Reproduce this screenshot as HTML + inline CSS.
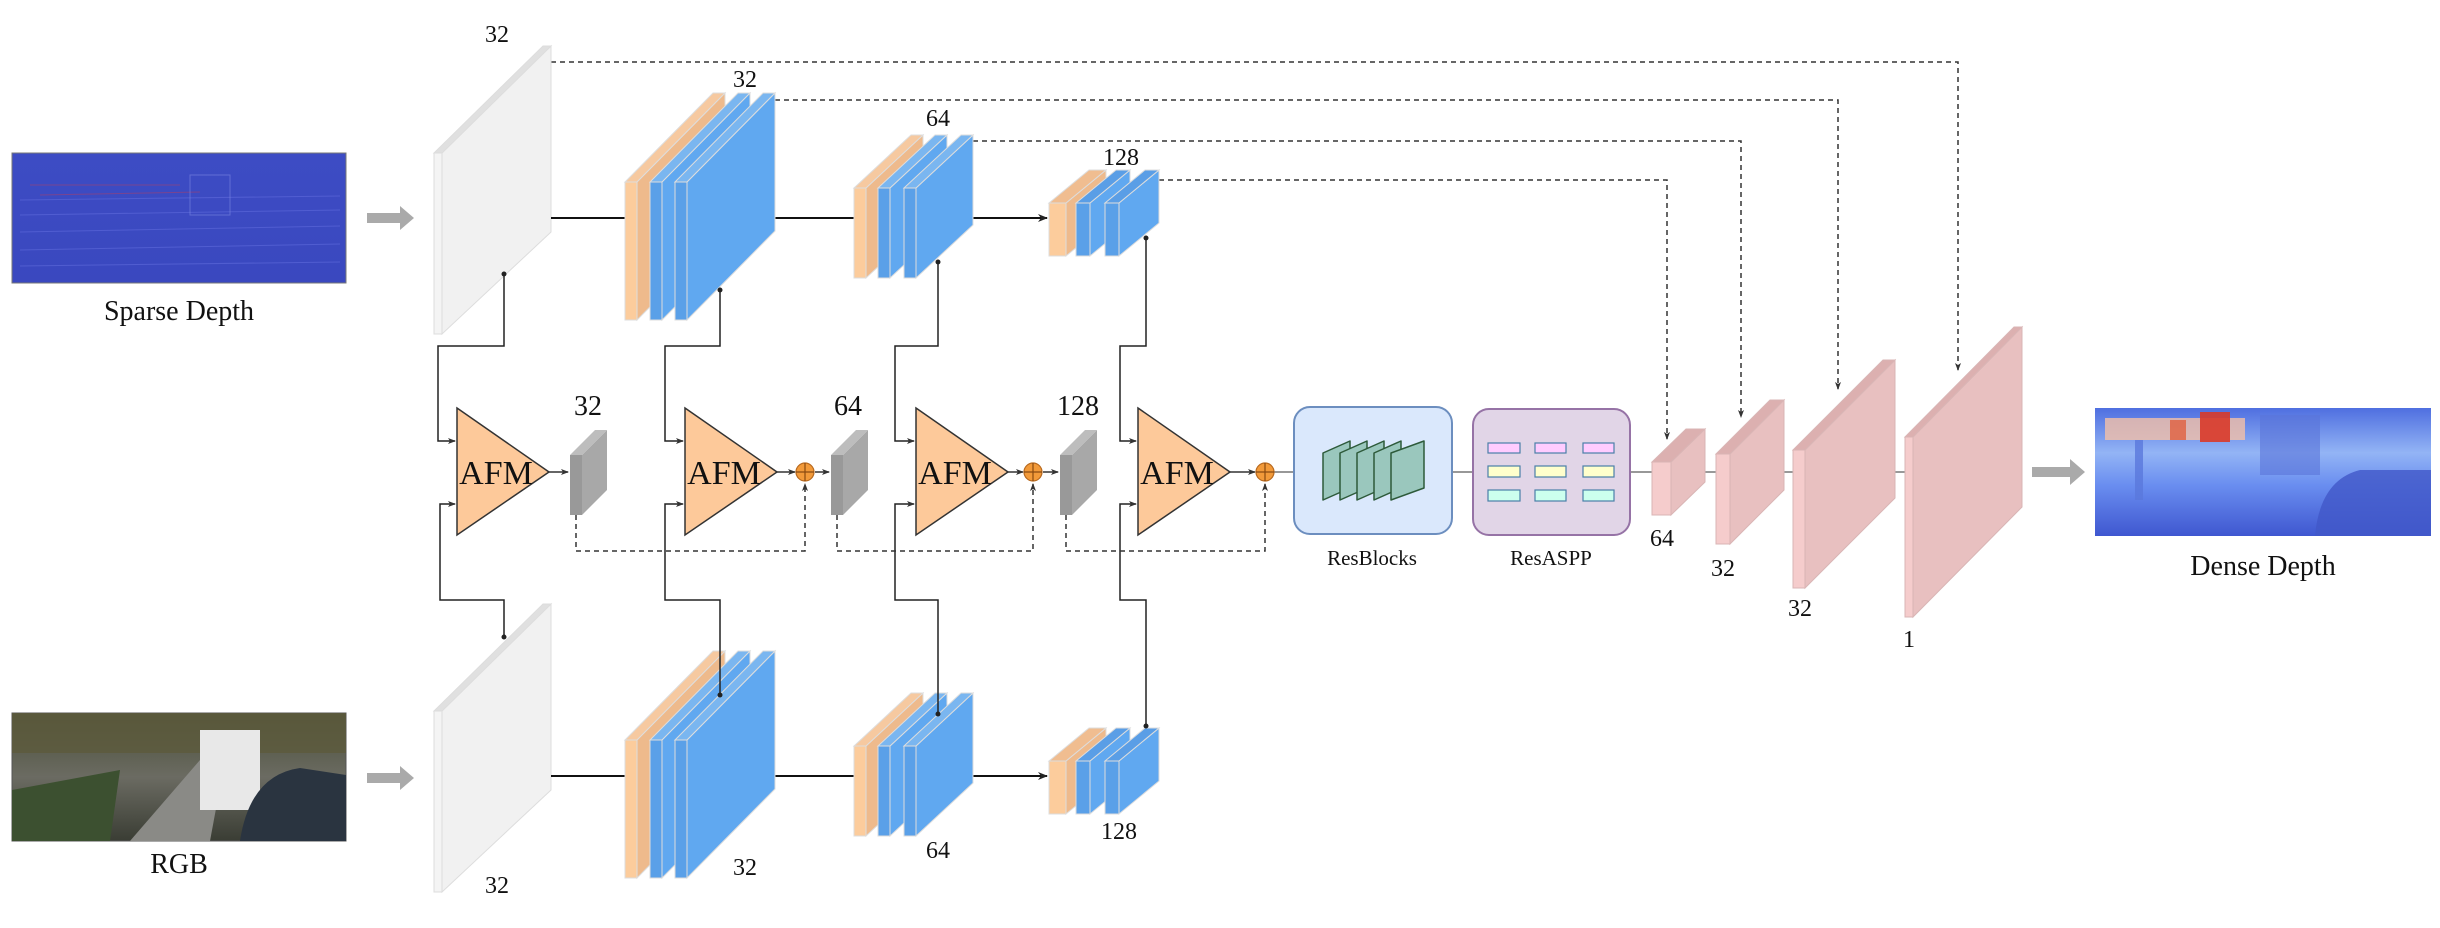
<!DOCTYPE html>
<html><head><meta charset="utf-8"><style>
html,body{margin:0;padding:0;background:#fff;}
svg{display:block;}
text{font-family:"Liberation Serif",serif;fill:#111;}
</style></head><body>
<svg width="2440" height="928" viewBox="0 0 2440 928" xmlns="http://www.w3.org/2000/svg">
<defs>
<marker id="ah" markerWidth="10" markerHeight="10" refX="9" refY="5" orient="auto" markerUnits="userSpaceOnUse"><path d="M0,1 L10,5 L0,9 L3,5 Z" fill="#222"/></marker>
<marker id="as" markerWidth="8" markerHeight="8" refX="7" refY="4" orient="auto" markerUnits="userSpaceOnUse"><path d="M0,1 L8,4 L0,7 L2,4 Z" fill="#333"/></marker>
<linearGradient id="sd" x1="0" y1="0" x2="0" y2="1"><stop offset="0" stop-color="#3d4cc4"/><stop offset="1" stop-color="#3a48bf"/></linearGradient>
<linearGradient id="dd" x1="0" y1="0" x2="0" y2="1"><stop offset="0" stop-color="#4f6fe0"/><stop offset="0.35" stop-color="#93b4f5"/><stop offset="0.6" stop-color="#6a8ef0"/><stop offset="1" stop-color="#3f57d0"/></linearGradient>
<linearGradient id="rg" x1="0" y1="0" x2="0" y2="1"><stop offset="0" stop-color="#4a4f38"/><stop offset="0.5" stop-color="#6b6b62"/><stop offset="1" stop-color="#3a3d34"/></linearGradient>
</defs>

<rect x="12" y="153" width="334" height="130" fill="url(#sd)" stroke="#777" stroke-width="1"/>
<g stroke="#5a66d8" stroke-width="1" opacity="0.7">
<line x1="20" y1="200" x2="340" y2="196"/><line x1="20" y1="215" x2="340" y2="210"/><line x1="20" y1="232" x2="340" y2="226"/><line x1="20" y1="250" x2="340" y2="244"/><line x1="20" y1="266" x2="340" y2="262"/>
</g>
<g stroke="#a04070" stroke-width="1" opacity="0.6"><line x1="30" y1="185" x2="180" y2="185"/><line x1="40" y1="195" x2="200" y2="192"/></g>
<rect x="190" y="175" width="40" height="40" fill="none" stroke="#7a86e0" opacity="0.6"/>
<text x="179" y="320" font-size="28" text-anchor="middle">Sparse Depth</text>

<rect x="12" y="713" width="334" height="128" fill="url(#rg)" stroke="#555"/>
<rect x="12" y="713" width="334" height="40" fill="#5c5a3c" opacity="0.8"/>
<polygon points="130,841 200,760 225,760 210,841" fill="#8a8a86"/>
<polygon points="12,841 12,790 120,770 110,841" fill="#3c5030"/>
<rect x="200" y="730" width="60" height="80" fill="#e8e8e8"/>
<path d="M240,841 Q250,775 300,768 L346,775 L346,841 Z" fill="#2a3440"/>
<text x="179" y="873" font-size="28" text-anchor="middle">RGB</text>

<polygon points="367,213 400,213 400,206 414,218 400,230 400,223 367,223" fill="#aaa"/>
<polygon points="367,773 400,773 400,766 414,778 400,790 400,783 367,783" fill="#aaa"/>
<polygon points="2032,467 2070,467 2070,459 2085,472 2070,485 2070,477 2032,477" fill="#aaa"/>

<g fill="none" stroke="#333" stroke-width="1.5" stroke-dasharray="5,4">
<polyline points="551,62 1958,62 1958,370" marker-end="url(#as)"/>
<polyline points="775,100 1838,100 1838,389" marker-end="url(#as)"/>
<polyline points="973,141 1741,141 1741,417" marker-end="url(#as)"/>
<polyline points="1159,180 1667,180 1667,439" marker-end="url(#as)"/>
</g>

<g stroke="#ddd" stroke-width="1">
<polygon points="442,153 551,46 551,232 442,334" fill="#f1f1f1"/>
<polygon points="434,153 543,46 551,46 442,153" fill="#e0e0e0"/>
<rect x="434" y="153" width="8" height="181" fill="#f4f4f4"/>
<polygon points="442,711 551,604 551,790 442,892" fill="#f1f1f1"/>
<polygon points="434,711 543,604 551,604 442,711" fill="#e0e0e0"/>
<rect x="434" y="711" width="8" height="181" fill="#f4f4f4"/>
</g>
<text x="497" y="42" font-size="24" text-anchor="middle">32</text>
<text x="497" y="893" font-size="24" text-anchor="middle">32</text>

<g stroke="#111" stroke-width="2">
<line x1="551" y1="218" x2="625" y2="218"/><line x1="775" y1="218" x2="854" y2="218"/>
<line x1="973" y1="218" x2="1047" y2="218" marker-end="url(#ah)"/>
<line x1="551" y1="776" x2="625" y2="776"/><line x1="775" y1="776" x2="854" y2="776"/>
<line x1="973" y1="776" x2="1047" y2="776" marker-end="url(#ah)"/>
</g>

<g stroke="#ddd" stroke-width="1">
<polygon points="637,182 725,93 725,231 637,320" fill="#eeba8c"/><polygon points="625,182 713,93 725,93 637,182" fill="#f6c9a0"/><rect x="625" y="182" width="12" height="138" fill="#fccc9c"/>
<polygon points="662,182 750,93 750,231 662,320" fill="#60a8f0"/><polygon points="650,182 738,93 750,93 662,182" fill="#7ab6f0"/><rect x="650" y="182" width="12" height="138" fill="#5aa0e8"/>
<polygon points="687,182 775,93 775,231 687,320" fill="#60a8f0"/><polygon points="675,182 763,93 775,93 687,182" fill="#7ab6f0"/><rect x="675" y="182" width="12" height="138" fill="#5aa0e8"/>
<polygon points="637,740 725,651 725,789 637,878" fill="#eeba8c"/><polygon points="625,740 713,651 725,651 637,740" fill="#f6c9a0"/><rect x="625" y="740" width="12" height="138" fill="#fccc9c"/>
<polygon points="662,740 750,651 750,789 662,878" fill="#60a8f0"/><polygon points="650,740 738,651 750,651 662,740" fill="#7ab6f0"/><rect x="650" y="740" width="12" height="138" fill="#5aa0e8"/>
<polygon points="687,740 775,651 775,789 687,878" fill="#60a8f0"/><polygon points="675,740 763,651 775,651 687,740" fill="#7ab6f0"/><rect x="675" y="740" width="12" height="138" fill="#5aa0e8"/>
<polygon points="866,188 923,135 923,225 866,278" fill="#eeba8c"/><polygon points="854,188 911,135 923,135 866,188" fill="#f6c9a0"/><rect x="854" y="188" width="12" height="90" fill="#fccc9c"/>
<polygon points="890,188 947,135 947,225 890,278" fill="#60a8f0"/><polygon points="878,188 935,135 947,135 890,188" fill="#7ab6f0"/><rect x="878" y="188" width="12" height="90" fill="#5aa0e8"/>
<polygon points="916,188 973,135 973,225 916,278" fill="#60a8f0"/><polygon points="904,188 961,135 973,135 916,188" fill="#7ab6f0"/><rect x="904" y="188" width="12" height="90" fill="#5aa0e8"/>
<polygon points="866,746 923,693 923,783 866,836" fill="#eeba8c"/><polygon points="854,746 911,693 923,693 866,746" fill="#f6c9a0"/><rect x="854" y="746" width="12" height="90" fill="#fccc9c"/>
<polygon points="890,746 947,693 947,783 890,836" fill="#60a8f0"/><polygon points="878,746 935,693 947,693 890,746" fill="#7ab6f0"/><rect x="878" y="746" width="12" height="90" fill="#5aa0e8"/>
<polygon points="916,746 973,693 973,783 916,836" fill="#60a8f0"/><polygon points="904,746 961,693 973,693 916,746" fill="#7ab6f0"/><rect x="904" y="746" width="12" height="90" fill="#5aa0e8"/>
<polygon points="1066,203 1106,170 1106,223 1066,256" fill="#eeba8c"/><polygon points="1049,203 1089,170 1106,170 1066,203" fill="#f0bd90"/><rect x="1049" y="203" width="17" height="53" fill="#fccc9c"/>
<polygon points="1090,203 1130,170 1130,223 1090,256" fill="#60a8f0"/><polygon points="1076,203 1116,170 1130,170 1090,203" fill="#5a9ee6"/><rect x="1076" y="203" width="14" height="53" fill="#5aa0e8"/>
<polygon points="1119,203 1159,170 1159,223 1119,256" fill="#60a8f0"/><polygon points="1105,203 1145,170 1159,170 1119,203" fill="#5a9ee6"/><rect x="1105" y="203" width="14" height="53" fill="#5aa0e8"/>
<polygon points="1066,761 1106,728 1106,781 1066,814" fill="#eeba8c"/><polygon points="1049,761 1089,728 1106,728 1066,761" fill="#f0bd90"/><rect x="1049" y="761" width="17" height="53" fill="#fccc9c"/>
<polygon points="1090,761 1130,728 1130,781 1090,814" fill="#60a8f0"/><polygon points="1076,761 1116,728 1130,728 1090,761" fill="#5a9ee6"/><rect x="1076" y="761" width="14" height="53" fill="#5aa0e8"/>
<polygon points="1119,761 1159,728 1159,781 1119,814" fill="#60a8f0"/><polygon points="1105,761 1145,728 1159,728 1119,761" fill="#5a9ee6"/><rect x="1105" y="761" width="14" height="53" fill="#5aa0e8"/>
</g>
<g font-size="24" text-anchor="middle">
<text x="745" y="87">32</text><text x="938" y="126">64</text><text x="1121" y="165">128</text>
<text x="745" y="875">32</text><text x="938" y="858">64</text><text x="1119" y="839">128</text>
</g>

<g fill="none" stroke="#222" stroke-width="1.5">
<polyline points="504,274 504,346 438,346 438,441 455,441" marker-end="url(#as)"/>
<polyline points="504,637 504,600 440,600 440,504 455,504" marker-end="url(#as)"/>
<polyline points="720,290 720,346 665,346 665,441 683,441" marker-end="url(#as)"/>
<polyline points="720,695 720,600 665,600 665,504 683,504" marker-end="url(#as)"/>
<polyline points="938,262 938,346 895,346 895,441 914,441" marker-end="url(#as)"/>
<polyline points="938,714 938,600 895,600 895,504 914,504" marker-end="url(#as)"/>
<polyline points="1146,238 1146,346 1120,346 1120,441 1136,441" marker-end="url(#as)"/>
<polyline points="1146,726 1146,600 1120,600 1120,504 1136,504" marker-end="url(#as)"/>
</g>
<g fill="#222"><circle cx="504" cy="274" r="2.5"/><circle cx="504" cy="637" r="2.5"/><circle cx="720" cy="290" r="2.5"/><circle cx="720" cy="695" r="2.5"/><circle cx="938" cy="262" r="2.5"/><circle cx="938" cy="714" r="2.5"/><circle cx="1146" cy="238" r="2.5"/><circle cx="1146" cy="726" r="2.5"/></g>

<g fill="#fdc99a" stroke="#333" stroke-width="1.5">
<polygon points="457,408 549,472 457,535"/><polygon points="685,408 777,472 685,535"/>
<polygon points="916,408 1008,472 916,535"/><polygon points="1138,408 1230,472 1138,535"/>
</g>
<g font-size="34" text-anchor="middle">
<text x="496" y="484">AFM</text><text x="724" y="484">AFM</text><text x="955" y="484">AFM</text><text x="1177" y="484">AFM</text>
</g>

<g stroke="#333" stroke-width="1.5" fill="none">
<line x1="549" y1="472" x2="568" y2="472" marker-end="url(#as)"/>
<line x1="777" y1="472" x2="795" y2="472" marker-end="url(#as)"/>
<line x1="815" y1="472" x2="829" y2="472" marker-end="url(#as)"/>
<line x1="1008" y1="472" x2="1023" y2="472" marker-end="url(#as)"/>
<line x1="1043" y1="472" x2="1058" y2="472" marker-end="url(#as)"/>
<line x1="1230" y1="472" x2="1255" y2="472" marker-end="url(#as)"/>
</g>
<g stroke="#333" stroke-width="1.5" fill="none" stroke-dasharray="5,4">
<polyline points="576,515 576,551 805,551 805,484" marker-end="url(#as)"/>
<polyline points="837,515 837,551 1033,551 1033,484" marker-end="url(#as)"/>
<polyline points="1066,515 1066,551 1265,551 1265,484" marker-end="url(#as)"/>
</g>
<g stroke="#777" stroke-width="1.5">
<line x1="1274" y1="472" x2="1294" y2="472"/><line x1="1452" y1="472" x2="1473" y2="472"/>
<line x1="1630" y1="472" x2="1652" y2="472"/><line x1="1705" y1="472" x2="1716" y2="472"/>
<line x1="1784" y1="472" x2="1793" y2="472"/><line x1="1895" y1="472" x2="1905" y2="472"/>
</g>
<g>
<circle cx="805" cy="472" r="9" fill="#f29a3a" stroke="#b86a20" stroke-width="1.2"/><path d="M796,472 H814 M805,463 V481" stroke="#8a4a10" stroke-width="1.2"/>
<circle cx="1033" cy="472" r="9" fill="#f29a3a" stroke="#b86a20" stroke-width="1.2"/><path d="M1024,472 H1042 M1033,463 V481" stroke="#8a4a10" stroke-width="1.2"/>
<circle cx="1265" cy="472" r="9" fill="#f29a3a" stroke="#b86a20" stroke-width="1.2"/><path d="M1256,472 H1274 M1265,463 V481" stroke="#8a4a10" stroke-width="1.2"/>
</g>
<g>
<polygon points="582,455 607,430 607,490 582,515" fill="#a8a8a8"/><polygon points="570,455 595,430 607,430 582,455" fill="#bdbdbd"/><rect x="570" y="455" width="12" height="60" fill="#999"/>
<polygon points="843,455 868,430 868,490 843,515" fill="#a8a8a8"/><polygon points="831,455 856,430 868,430 843,455" fill="#bdbdbd"/><rect x="831" y="455" width="12" height="60" fill="#999"/>
<polygon points="1072,455 1097,430 1097,490 1072,515" fill="#a8a8a8"/><polygon points="1060,455 1085,430 1097,430 1072,455" fill="#bdbdbd"/><rect x="1060" y="455" width="12" height="60" fill="#999"/>
</g>
<g font-size="28" text-anchor="middle"><text x="588" y="415">32</text><text x="848" y="415">64</text><text x="1078" y="415">128</text></g>

<rect x="1294" y="407" width="158" height="127" rx="16" fill="#dae8fc" stroke="#6c8ebf" stroke-width="2"/>
<g fill="#9ac7bd" stroke="#2d5a3a" stroke-width="1.5" stroke-linejoin="round">
<polygon points="1323,453 1350,441 1350,488 1323,500"/>
<polygon points="1340,453 1367,441 1367,488 1340,500"/>
<polygon points="1357,453 1384,441 1384,488 1357,500"/>
<polygon points="1374,453 1401,441 1401,488 1374,500"/>
<polygon points="1391,453 1424,441 1424,488 1391,500"/>
</g>
<text x="1372" y="565" font-size="21" text-anchor="middle">ResBlocks</text>
<rect x="1473" y="409" width="157" height="126" rx="16" fill="#e1d5e7" stroke="#9673a6" stroke-width="2"/>
<g stroke="#4a7fa8" stroke-width="1.2">
<rect x="1488" y="443" width="32" height="10" fill="#ffccff"/><rect x="1535" y="443" width="31" height="10" fill="#ffccff"/><rect x="1583" y="443" width="31" height="10" fill="#ffccff"/>
<rect x="1488" y="466" width="32" height="11" fill="#ffffcc"/><rect x="1535" y="466" width="31" height="11" fill="#ffffcc"/><rect x="1583" y="466" width="31" height="11" fill="#ffffcc"/>
<rect x="1488" y="490" width="32" height="11" fill="#ccffee"/><rect x="1535" y="490" width="31" height="11" fill="#ccffee"/><rect x="1583" y="490" width="31" height="11" fill="#ccffee"/>
</g>
<text x="1551" y="565" font-size="21" text-anchor="middle">ResASPP</text>

<g stroke="#d9b5b5" stroke-width="1">
<polygon points="1671,462 1705,429 1705,482 1671,515" fill="#e8c0c0"/><polygon points="1652,462 1686,429 1705,429 1671,462" fill="#dcb0b0"/><rect x="1652" y="462" width="19" height="53" fill="#f5cccc"/>
<polygon points="1730,454 1784,400 1784,490 1730,544" fill="#e8c0c0"/><polygon points="1716,454 1770,400 1784,400 1730,454" fill="#dcb0b0"/><rect x="1716" y="454" width="14" height="90" fill="#f5cccc"/>
<polygon points="1805,450 1895,360 1895,498 1805,588" fill="#e8c0c0"/><polygon points="1793,450 1883,360 1895,360 1805,450" fill="#dcb0b0"/><rect x="1793" y="450" width="12" height="138" fill="#f5cccc"/>
<polygon points="1913,437 2022,327 2022,507 1913,617" fill="#e8c0c0"/><polygon points="1905,437 2014,327 2022,327 1913,437" fill="#dcb0b0"/><rect x="1905" y="437" width="8" height="180" fill="#f5cccc"/>
</g>
<g font-size="24" text-anchor="middle"><text x="1662" y="546">64</text><text x="1723" y="576">32</text><text x="1800" y="616">32</text><text x="1909" y="647">1</text></g>

<rect x="2095" y="408" width="336" height="128" fill="url(#dd)"/>
<rect x="2105" y="418" width="140" height="22" fill="#f4c0a8" opacity="0.8"/>
<rect x="2200" y="412" width="30" height="30" fill="#d83a2a" opacity="0.9"/>
<rect x="2170" y="420" width="16" height="20" fill="#e06040" opacity="0.8"/>
<rect x="2135" y="440" width="8" height="60" fill="#5a78dc" opacity="0.8"/>
<path d="M2315,536 Q2320,480 2360,470 L2431,470 L2431,536 Z" fill="#4158c8" opacity="0.8"/>
<rect x="2260" y="415" width="60" height="60" fill="#5a75d8" opacity="0.6"/>
<text x="2263" y="575" font-size="28" text-anchor="middle">Dense Depth</text>
</svg>
</body></html>
